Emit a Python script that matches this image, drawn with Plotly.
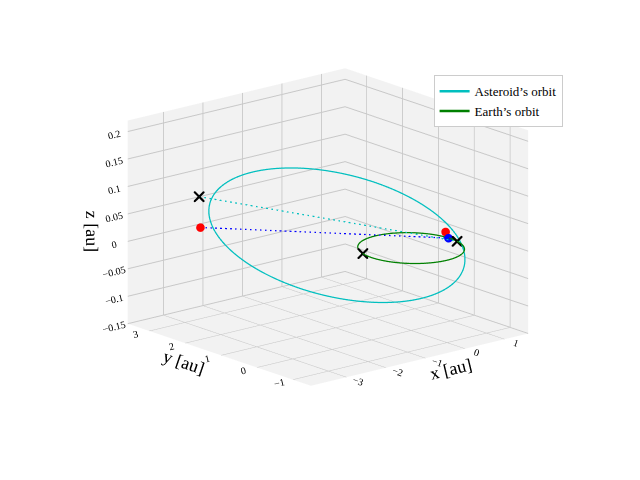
import numpy as np
import plotly.graph_objects as go

# Orbital elements (read approx from picture)
ast_a, ast_e, ast_inc_deg, ast_peri_deg, ast_node_deg = 2.4, 0.58, 2.0, 333.0, -13.0
earth_r = 1.0
theta = np.linspace(0, 2*np.pi, 400)

def orbit(a, e, inc, w, node):
    r = a*(1-e**2)/(1+e*np.cos(theta))
    xp, yp = r*np.cos(theta), r*np.sin(theta)
    i, w, O = np.radians([inc, w, node])
    x1 = xp*np.cos(w)-yp*np.sin(w); y1 = xp*np.sin(w)+yp*np.cos(w)
    z = y1*np.sin(i); y1 = y1*np.cos(i)
    x = x1*np.cos(O)-y1*np.sin(O); y = x1*np.sin(O)+y1*np.cos(O)
    return x, y, z

ax_, ay_, az_ = orbit(ast_a, ast_e, ast_inc_deg, ast_peri_deg, ast_node_deg)
ex, ey, ez = earth_r*np.cos(theta), earth_r*np.sin(theta), 0*theta

ast_x_pt = [-3.05, 2.55, 0.09]
ast_red_pt = [-2.7, 2.9, 0.02]
earth_x1 = [-0.95, 0.3, 0.0]
earth_x2 = [0.98, -0.2, 0.0]
earth_blue = [0.99, 0.05, 0.0]
earth_red = [0.98, 0.12, 0.01]

fig = go.Figure()
fig.add_scatter3d(x=ax_, y=ay_, z=az_, mode='lines', line=dict(color='#00bfbf', width=2.5), name="Asteroid’s orbit")
fig.add_scatter3d(x=ex, y=ey, z=ez, mode='lines', line=dict(color='green', width=2.5), name="Earth’s orbit")
fig.add_scatter3d(x=[ast_x_pt[0], earth_x2[0]], y=[ast_x_pt[1], earth_x2[1]], z=[ast_x_pt[2], earth_x2[2]],
                  mode='lines', line=dict(color='#00bfbf', width=2.5, dash='dash'), showlegend=False)
fig.add_scatter3d(x=[ast_red_pt[0], earth_blue[0]], y=[ast_red_pt[1], earth_blue[1]], z=[ast_red_pt[2], earth_blue[2]],
                  mode='lines', line=dict(color='blue', width=2.5, dash='dash'), showlegend=False)
fig.add_scatter3d(x=[ast_red_pt[0], earth_red[0]], y=[ast_red_pt[1], earth_red[1]], z=[ast_red_pt[2], earth_red[2]],
                  mode='markers', marker=dict(color='red', size=5), showlegend=False)
fig.add_scatter3d(x=[earth_blue[0]], y=[earth_blue[1]], z=[earth_blue[2]],
                  mode='markers', marker=dict(color='blue', size=5), showlegend=False)
fig.add_scatter3d(x=[ast_x_pt[0], earth_x1[0], earth_x2[0]], y=[ast_x_pt[1], earth_x1[1], earth_x2[1]],
                  z=[ast_x_pt[2], earth_x1[2], earth_x2[2]],
                  mode='markers', marker=dict(color='black', size=2.5, symbol='x'), showlegend=False)

axis = dict(backgroundcolor='#f2f2f2', gridcolor='#c8c8c8', showbackground=True, zeroline=False,
            tickfont=dict(size=11, family='Liberation Serif'))
fig.update_layout(
    width=640, height=480, margin=dict(l=0, r=0, t=0, b=0), paper_bgcolor='white',
    font=dict(family='Liberation Serif', color='black'),
    legend=dict(x=0.665, y=0.86, bordercolor='#cccccc', borderwidth=1, font=dict(size=13)),
    scene=dict(
        domain=dict(x=[0.0, 1.0], y=[0.06, 1.0]),
        xaxis=dict(axis, title=dict(text='x [au]', font=dict(size=18)), range=[-3.9, 1.6], tickvals=[-3, -2, -1, 0, 1]),
        yaxis=dict(axis, title=dict(text='y [au]', font=dict(size=18)), range=[-1.5, 3.6], tickvals=[-1, 0, 1, 2, 3]),
        zaxis=dict(axis, title=dict(text='z [au]', font=dict(size=18)), range=[-0.15, 0.22],
                   tickvals=[-0.15, -0.1, -0.05, 0, 0.05, 0.1, 0.15, 0.2]),
        aspectmode='manual', aspectratio=dict(x=1.26, y=1.26, z=0.94),
        camera=dict(eye=dict(x=-0.8, y=-0.95, z=0.34), center=dict(x=0, y=0, z=-0.03),
                    projection=dict(type='orthographic')),
    ),
)
fig.write_html("out.html")
